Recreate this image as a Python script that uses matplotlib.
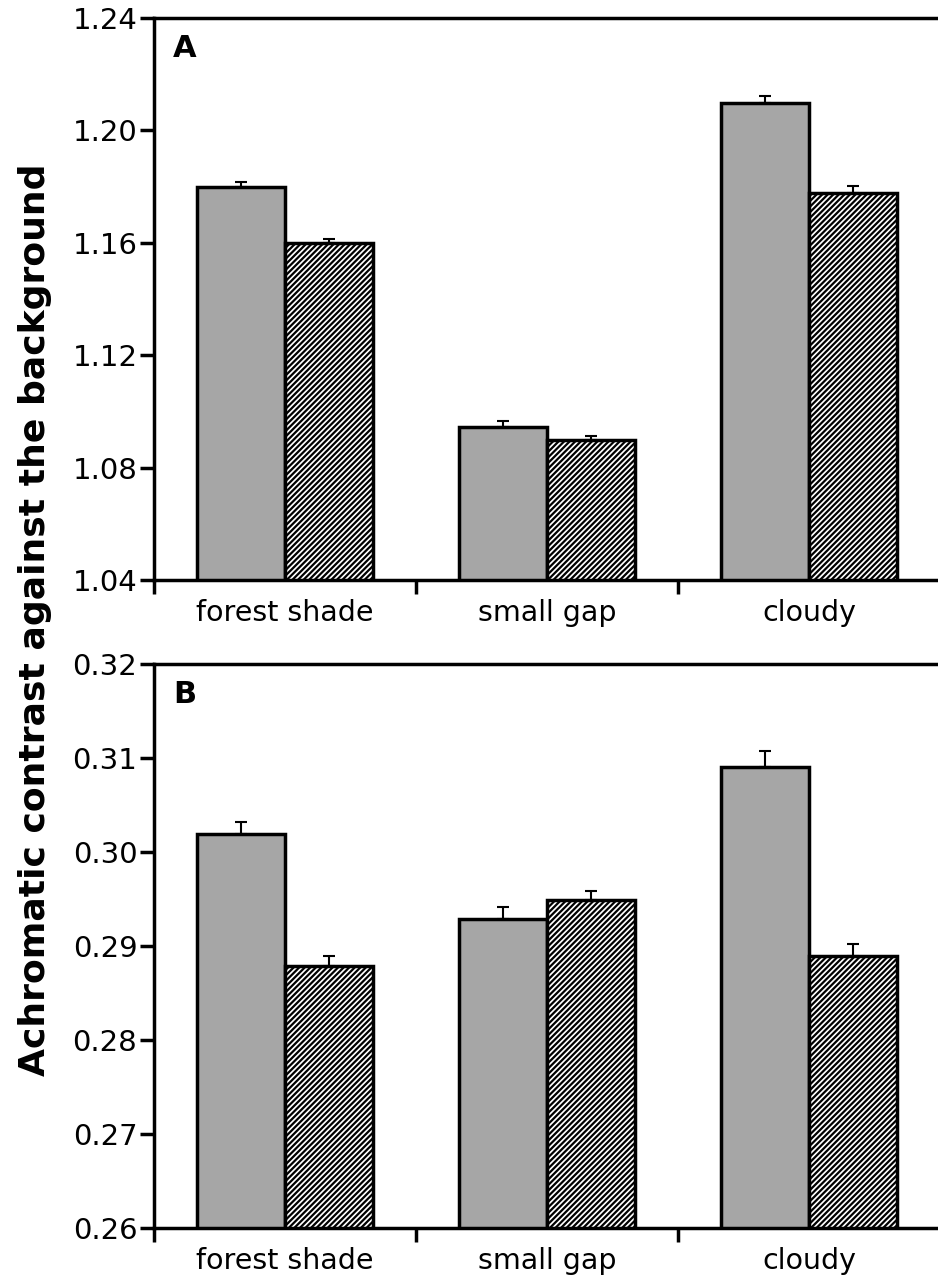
import matplotlib
matplotlib.use("Agg")
import matplotlib.pyplot as plt
import numpy as np

categories = ["forest shade", "small gap", "cloudy"]

a_plain = [1.180, 1.0944, 1.2098]
a_plain_err = [0.0018, 0.0021, 0.0025]
a_hatch = [1.160, 1.0898, 1.1777]
a_hatch_err = [0.0014, 0.0014, 0.0025]

b_plain = [0.3019, 0.2929, 0.3090]
b_plain_err = [0.0013, 0.0013, 0.0017]
b_hatch = [0.2879, 0.2949, 0.2889]
b_hatch_err = [0.0010, 0.0009, 0.0013]

a_ticks = [1.04, 1.08, 1.12, 1.16, 1.20, 1.24]
b_ticks = [0.26, 0.27, 0.28, 0.29, 0.30, 0.31, 0.32]
ylabel = "Achromatic contrast against the background"

plt.rcParams['font.family'] = ['DejaVu Sans']
plt.rcParams['hatch.linewidth'] = 1.6

fig = plt.figure(figsize=(9.38, 12.86), dpi=100)
W, H = 938, 1286

def make_ax(top_px, bot_px):
    left = 154 / W
    right = 940 / W
    return fig.add_axes([left, 1 - bot_px / H, right - left, (bot_px - top_px) / H])

axA = make_ax(18, 580)
axB = make_ax(664, 1228)

def draw(ax, plain, perr, hatch, herr, ticks, letter, fmt):
    x = np.arange(len(categories))
    w = 0.336
    ax.bar(x - w / 2, plain, w, color="#a6a6a6", edgecolor="black", linewidth=2.5, zorder=2)
    ax.bar(x + w / 2, hatch, w, color="white", edgecolor="black", hatch="//////", linewidth=2.5, zorder=2)
    for xs, vals, errs in ((x - w / 2, plain, perr), (x + w / 2, hatch, herr)):
        ax.errorbar(xs, vals, yerr=[np.zeros(len(errs)), errs], fmt="none", ecolor="black",
                    elinewidth=1.5, capsize=4, capthick=1.5, zorder=3)
    ax.set_xlim(-0.5, 2.5)
    ax.set_ylim(ticks[0], ticks[-1])
    ax.set_yticks(ticks)
    ax.set_yticklabels([fmt.format(t) for t in ticks], fontsize=21)
    ax.set_xticks([-0.5, 0.5, 1.5, 2.5])
    ax.set_xticklabels([])
    ax.set_xticks(x, minor=True)
    ax.set_xticklabels(categories, minor=True, fontsize=20.5)
    ax.tick_params(axis="x", which="major", direction="out", length=10, width=2.5)
    ax.tick_params(axis="x", which="minor", length=0, pad=14)
    ax.tick_params(axis="y", direction="out", length=10, width=2.5, pad=2)
    for s in ("left", "top", "bottom"):
        ax.spines[s].set_linewidth(2.5)
    ax.spines["right"].set_visible(False)
    ax.text(0.024, 0.972, letter, transform=ax.transAxes, fontsize=22, fontweight="bold",
            va="top", ha="left")

draw(axA, a_plain, a_plain_err, a_hatch, a_hatch_err, a_ticks, "A", "{:.2f}")
draw(axB, b_plain, b_plain_err, b_hatch, b_hatch_err, b_ticks, "B", "{:.2f}")

fig.text(35 / W, 1 - 620 / H, ylabel, rotation=90, fontsize=26, fontweight="bold",
         ha="center", va="center")

fig.savefig("out.png", dpi=100)
